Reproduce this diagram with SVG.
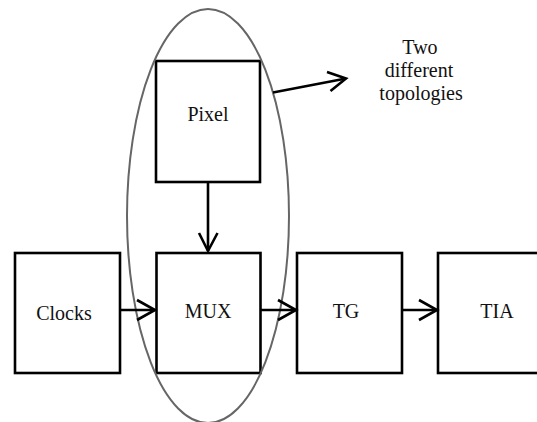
<svg xmlns="http://www.w3.org/2000/svg" width="537" height="422" viewBox="0 0 537 422">
  <style>
    .box { fill: #ffffff; stroke: #000000; stroke-width: 2.6; }
    .lbl { font-family: "Liberation Serif", "Times New Roman", serif; font-size: 20px; fill: #111111; text-anchor: middle; }
    .wire { fill: none; stroke: #000000; stroke-width: 2.6; }
    .head { fill: none; stroke: #000000; stroke-width: 2.6; stroke-linejoin: miter; stroke-linecap: butt; }
    .group-outline { fill: none; stroke: #666666; stroke-width: 2; }
  </style>
  <rect width="537" height="422" fill="#ffffff"/>

  <g id="pixel">
    <rect class="box" x="156" y="61" width="104" height="121"/>
    <text class="lbl" x="208" y="121">Pixel</text>
  </g>
  <g id="clocks">
    <rect class="box" x="15" y="253" width="105" height="120"/>
    <text class="lbl" x="64" y="320">Clocks</text>
  </g>
  <g id="mux">
    <rect class="box" x="156.5" y="253" width="104" height="120"/>
    <text class="lbl" x="208" y="318">MUX</text>
  </g>
  <g id="tg">
    <rect class="box" x="297" y="253" width="105" height="120"/>
    <text class="lbl" x="346" y="318">TG</text>
  </g>
  <g id="tia">
    <rect class="box" x="438" y="253" width="110" height="120"/>
    <text class="lbl" x="497" y="318">TIA</text>
  </g>

  <!-- grouping outline around the pixel / mux column -->
  <g id="topology-group">
    <ellipse class="group-outline" cx="208" cy="216" rx="81" ry="207"/>
  </g>

  <g id="note">
    <text class="lbl" x="420" y="54">Two</text>
    <text class="lbl" x="419" y="77">different</text>
    <text class="lbl" x="421" y="100">topologies</text>
  </g>

  <g id="connectors">
    <!-- Pixel -> MUX -->
    <line class="wire" x1="208" y1="182" x2="208" y2="251"/>
    <polyline class="head" points="199,233 208,251 217.5,233"/>
    <!-- Clocks -> MUX -->
    <line class="wire" x1="120" y1="310" x2="155" y2="310"/>
    <polyline class="head" points="137,300 155,310 137,320"/>
    <!-- MUX -> TG -->
    <line class="wire" x1="260" y1="310" x2="296" y2="310"/>
    <polyline class="head" points="278,300 296,310 278,320"/>
    <!-- TG -> TIA -->
    <line class="wire" x1="402" y1="310" x2="437" y2="310"/>
    <polyline class="head" points="419,300 437,310 419,320"/>
    <!-- outline -> note -->
    <line class="wire" x1="273" y1="92.5" x2="346" y2="78.5"/>
    <polyline class="head" points="327,72 346,78.5 330.5,91"/>
  </g>
</svg>
